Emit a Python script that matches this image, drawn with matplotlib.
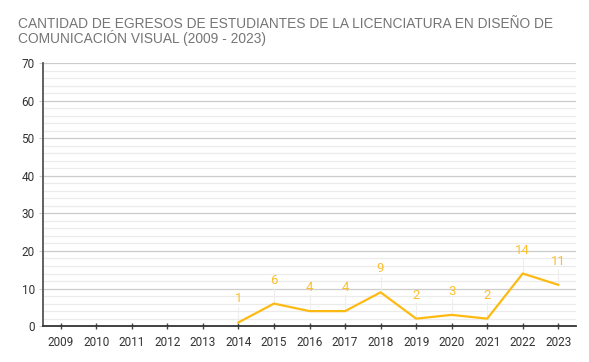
import matplotlib.pyplot as plt
import numpy as np

years = ['2009', '2010', '2011', '2012', '2013', '2014', '2015', '2016',
         '2017', '2018', '2019', '2020', '2021', '2022', '2023']
line_years = ['2014', '2015', '2016', '2017', '2018', '2019', '2020',
              '2021', '2022', '2023']
egresos = [1, 6, 4, 4, 9, 2, 3, 2, 14, 11]

plt.rcParams['font.family'] = ['Roboto', 'DejaVu Sans']

fig = plt.figure(figsize=(5.89, 3.62), dpi=100)
ax = fig.add_axes([0.073, 0.099, 0.905, 0.727])

x = np.arange(len(years))
xl = [years.index(y) for y in line_years]

ax.set_yticks(np.arange(0, 71, 10))
ax.set_yticks(np.arange(0, 71, 2), minor=True)
ax.grid(axis='y', which='major', color='#cccccc', lw=0.9)
ax.grid(axis='y', which='minor', color='#ebebeb', lw=0.9)
ax.set_axisbelow(True)

ax.plot(xl, egresos, color='#FDBA12', lw=1.6, zorder=3)
for xi, v in zip(xl, egresos):
    ax.plot([xi, xi], [v, v + 4.2], color='#eeeeee', lw=0.8, zorder=2)
    ax.text(xi, v + 4.5, str(v), ha='center', va='bottom', color='#FDBF2D', fontsize=9.5)

ax.set_xlim(-0.5, len(years) - 0.5)
ax.set_ylim(0, 70)
ax.set_xticks(x)
ax.set_xticklabels(years)
ax.tick_params(axis='x', length=4, width=1, color='#444444', labelsize=8.5,
               labelcolor='#333333', pad=5, direction='inout')
ax.tick_params(axis='y', which='major', length=3, color='#cccccc', labelsize=8.5,
               labelcolor='#333333', pad=3)
ax.tick_params(axis='y', which='minor', length=0)

for s in ['top', 'right']:
    ax.spines[s].set_visible(False)
ax.spines['left'].set_color('#555555')
ax.spines['left'].set_linewidth(1.3)
ax.spines['bottom'].set_color('#333333')
ax.spines['bottom'].set_linewidth(1.3)

fig.text(0.031, 0.914, 'CANTIDAD DE EGRESOS DE ESTUDIANTES DE LA LICENCIATURA EN DISEÑO DE\nCOMUNICACIÓN VISUAL (2009 - 2023)',
         fontsize=9.95, color='#757575', family=['Liberation Sans', 'DejaVu Sans'],
         va='center', ha='left', linespacing=0.92)

fig.savefig('out.png', dpi=100)
